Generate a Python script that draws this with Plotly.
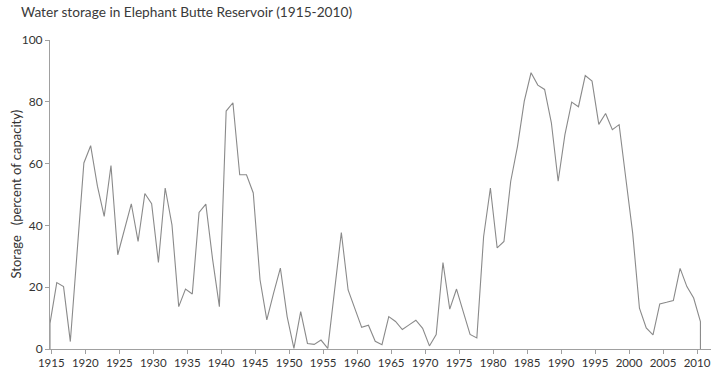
import plotly.graph_objects as go

# ---- data ----
years = list(range(1914, 2011))
storage = [
    8.3, 21.5, 20.2, 2.4, 30.0, 60.2, 65.8, 52.7, 42.9, 59.4,      # 1914-1923
    30.5, 39.0, 47.0, 34.8, 50.3, 47.0, 28.0, 52.1, 40.2, 13.7,    # 1924-1933
    19.4, 17.8, 44.2, 46.9, 29.0, 13.7, 77.0, 79.7, 56.4, 56.4,    # 1934-1943
    50.5, 22.4, 9.4, 18.1, 26.2, 10.5, 0.2, 12.1, 1.8, 1.5,        # 1944-1953
    2.9, 0.2, 19.0, 37.7, 19.1, 13.0, 7.0, 7.7, 2.5, 1.4,          # 1954-1963
    10.5, 8.9, 6.3, 7.8, 9.3, 6.7, 1.0, 4.7, 28.0, 12.9,           # 1964-1973
    19.4, 12.0, 4.7, 3.6, 36.4, 52.1, 32.7, 34.8, 54.3, 65.6,      # 1974-1983
    80.2, 89.4, 85.4, 84.0, 73.2, 54.3, 69.4, 79.9, 78.4, 88.5,    # 1984-1993
    86.7, 72.7, 76.2, 71.0, 72.6, 55.0, 37.5, 13.2, 6.8, 4.6,      # 1994-2003
    14.6, 15.1, 15.7, 26.1, 20.2, 16.5, 8.9,                       # 2004-2010
]
y_ticks = [0, 20, 40, 60, 80, 100]
x_ticks = list(range(1915, 2011, 5))

title_text = "Water storage in Elephant Butte Reservoir (1915-2010)"
y_title = "Storage\u00a0\u00a0\u00a0(percent of capacity)"

# outline closes down to the baseline at both ends, as in the reference
line_x = [years[0]] + years + [years[-1]]
line_y = [0] + storage + [0]

FONT = "Lato, 'Open Sans', sans-serif"
AXIS_COLOR = "#a0a0a0"
TEXT_COLOR = "#333333"

fig = go.Figure()
fig.add_trace(go.Scatter(
    x=line_x, y=line_y, mode="lines", xaxis="x2", yaxis="y",
    line=dict(color="#8a8a8a", width=1.1), hoverinfo="skip", showlegend=False,
))
# invisible helper trace so the visible tick axis is active
fig.add_trace(go.Scatter(x=[x_ticks[0]], y=[None], xaxis="x", yaxis="y",
                         mode="markers", showlegend=False, hoverinfo="skip"))

fig.update_layout(
    width=720, height=369,
    margin=dict(l=50, r=9, t=40, b=20),
    paper_bgcolor="white", plot_bgcolor="white",
    font=dict(family=FONT, size=11, color=TEXT_COLOR),
    showlegend=False,
    xaxis=dict(
        range=[1914.81, 2012.06], tickvals=x_ticks, ticktext=[str(t) for t in x_ticks],
        showline=True, linecolor=AXIS_COLOR, linewidth=1, automargin=False,
        ticks="outside", ticklen=4, tickcolor=AXIS_COLOR, tickwidth=1,
        ticklabelstandoff=-1,
        showgrid=False, zeroline=False, tickfont=dict(size=11.5, color=TEXT_COLOR),
    ),
    xaxis2=dict(
        range=[1914.0, 2011.56], overlaying="x", visible=False, automargin=False,
        showgrid=False, zeroline=False,
    ),
    yaxis=dict(
        range=[0, 100], tickvals=y_ticks, automargin=False,
        showline=True, linecolor=AXIS_COLOR, linewidth=1,
        ticks="outside", ticklen=4, tickcolor=AXIS_COLOR, tickwidth=1,
        showgrid=False, zeroline=False, tickfont=dict(size=12, color=TEXT_COLOR),
    ),
    annotations=[
        dict(text=title_text, xref="paper", yref="paper", x=0, y=1,
             xanchor="left", yanchor="middle", xshift=-31, yshift=29,
             showarrow=False, font=dict(family=FONT, size=13.7, color="#3a3a3a")),
        dict(text=y_title, xref="paper", yref="paper", x=0, y=0.5,
             xanchor="center", yanchor="middle", xshift=-35, textangle=-90,
             showarrow=False, font=dict(family=FONT, size=13, color=TEXT_COLOR)),
    ],
)

fig.write_html(
    "out.html",
    config={"displayModeBar": False},
    post_script="document.body.style.margin='0';document.body.style.padding='0';",
)
